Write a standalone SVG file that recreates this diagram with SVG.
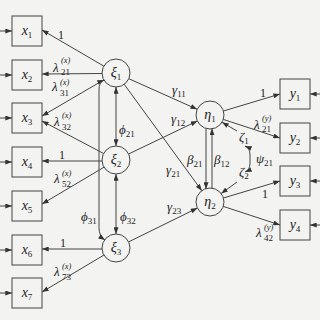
<svg xmlns="http://www.w3.org/2000/svg" width="320" height="320" viewBox="0 0 320 320">
<defs>
<marker id="ah" viewBox="0 0 8 6" refX="8" refY="3" markerWidth="7" markerHeight="5" markerUnits="userSpaceOnUse" orient="auto-start-reverse">
<path d="M0,0 L8,3 L0,6 z" fill="#333"/>
</marker>
<style>
.bg{fill:#f3f3f1}
.box{fill:none;stroke:#444;stroke-width:1}
.ci{fill:none;stroke:#444;stroke-width:1}
.ln{fill:none;stroke:#444;stroke-width:1;marker-end:url(#ah)}
.dl{fill:none;stroke:#444;stroke-width:1;marker-end:url(#ah);marker-start:url(#ah)}
text{font-family:"Liberation Serif","DejaVu Serif",serif;fill:#222}
.v{font-size:14px;font-style:italic}
.g{font-size:13px;font-style:italic}
.s{font-size:9px;font-style:normal}
.si{font-size:8.5px;font-style:italic}
.n{font-size:12px}
</style>
</defs>
<rect class="bg" x="0" y="0" width="320" height="320"/>

<g id="connectors">
<line class="ln" x1="0" y1="31" x2="12" y2="31"/>
<line class="ln" x1="0" y1="75" x2="12" y2="75"/>
<line class="ln" x1="0" y1="118" x2="12" y2="118"/>
<line class="ln" x1="0" y1="162" x2="12" y2="162"/>
<line class="ln" x1="0" y1="206" x2="12" y2="206"/>
<line class="ln" x1="0" y1="250" x2="12" y2="250"/>
<line class="ln" x1="0" y1="293" x2="12" y2="293"/>
<line class="ln" x1="320" y1="94" x2="310" y2="94"/>
<line class="ln" x1="320" y1="138" x2="310" y2="138"/>
<line class="ln" x1="320" y1="181" x2="310" y2="181"/>
<line class="ln" x1="320" y1="225" x2="310" y2="225"/>
<line class="ln" x1="103.8" y1="66.1" x2="42" y2="30"/>
<line class="ln" x1="102" y1="73.5" x2="42" y2="74"/>
<line class="ln" x1="103.8" y1="79.9" x2="42" y2="116"/>
<line class="ln" x1="103.6" y1="153.5" x2="42" y2="121"/>
<line class="ln" x1="102" y1="161" x2="42" y2="161"/>
<line class="ln" x1="104" y1="167.2" x2="42" y2="204"/>
<line class="ln" x1="102" y1="249" x2="42" y2="249"/>
<line class="ln" x1="104" y1="255" x2="42" y2="292"/>
<line class="dl" x1="116" y1="87" x2="116" y2="146"/>
<line class="dl" x1="116" y1="174" x2="116" y2="234"/>
<path class="dl" d="M105,240 Q99,236 99,228 L99,90 Q99,82 104,80"/>
<line class="ln" x1="128.8" y1="78.7" x2="197.2" y2="109.3"/>
<line class="ln" x1="128.6" y1="154" x2="197.4" y2="121"/>
<line class="ln" x1="124.2" y1="84.3" x2="201.8" y2="190.7"/>
<line class="ln" x1="128.6" y1="241.9" x2="197.4" y2="208.1"/>
<line class="ln" x1="206" y1="128.5" x2="206" y2="189"/>
<line class="ln" x1="212" y1="188.5" x2="212" y2="128.5"/>
<line class="ln" x1="237" y1="131" x2="222" y2="122.3"/>
<line class="ln" x1="237" y1="182" x2="221.2" y2="193.5"/>
<path class="dl" d="M245,172 Q250,170 250,163 L250,155 Q250,148 245,146"/>
<line class="ln" x1="223.4" y1="111" x2="280" y2="94"/>
<line class="ln" x1="223.3" y1="119.4" x2="280" y2="138"/>
<line class="ln" x1="223.4" y1="198" x2="280" y2="181"/>
<line class="ln" x1="223.3" y1="206.4" x2="280" y2="225"/>
</g>

<g id="x1"><rect class="box" x="12" y="16" width="30" height="30"/><text class="v" x="27" y="35" text-anchor="middle">x<tspan class="s" dy="3">1</tspan></text></g>
<g id="x2"><rect class="box" x="12" y="60" width="30" height="30"/><text class="v" x="27" y="79" text-anchor="middle">x<tspan class="s" dy="3">2</tspan></text></g>
<g id="x3"><rect class="box" x="12" y="103" width="30" height="30"/><text class="v" x="27" y="122" text-anchor="middle">x<tspan class="s" dy="3">3</tspan></text></g>
<g id="x4"><rect class="box" x="12" y="147" width="30" height="30"/><text class="v" x="27" y="166" text-anchor="middle">x<tspan class="s" dy="3">4</tspan></text></g>
<g id="x5"><rect class="box" x="12" y="191" width="30" height="30"/><text class="v" x="27" y="210" text-anchor="middle">x<tspan class="s" dy="3">5</tspan></text></g>
<g id="x6"><rect class="box" x="12" y="235" width="30" height="30"/><text class="v" x="27" y="254" text-anchor="middle">x<tspan class="s" dy="3">6</tspan></text></g>
<g id="x7"><rect class="box" x="12" y="278" width="30" height="30"/><text class="v" x="27" y="297" text-anchor="middle">x<tspan class="s" dy="3">7</tspan></text></g>

<g id="xi1"><circle class="ci" cx="116" cy="73" r="14"/><text class="v" x="116" y="77" text-anchor="middle">ξ<tspan class="s" dy="3">1</tspan></text></g>
<g id="xi2"><circle class="ci" cx="116" cy="160" r="14"/><text class="v" x="116" y="164" text-anchor="middle">ξ<tspan class="s" dy="3">2</tspan></text></g>
<g id="xi3"><circle class="ci" cx="116" cy="248" r="14"/><text class="v" x="116" y="252" text-anchor="middle">ξ<tspan class="s" dy="3">3</tspan></text></g>

<g id="eta1"><circle class="ci" cx="210" cy="115" r="14"/><text class="v" x="210" y="119" text-anchor="middle">η<tspan class="s" dy="3">1</tspan></text></g>
<g id="eta2"><circle class="ci" cx="210" cy="202" r="14"/><text class="v" x="210" y="206" text-anchor="middle">η<tspan class="s" dy="3">2</tspan></text></g>

<g id="y1"><rect class="box" x="280" y="79" width="30" height="30"/><text class="v" x="295" y="98" text-anchor="middle">y<tspan class="s" dy="3">1</tspan></text></g>
<g id="y2"><rect class="box" x="280" y="123" width="30" height="30"/><text class="v" x="295" y="142" text-anchor="middle">y<tspan class="s" dy="3">2</tspan></text></g>
<g id="y3"><rect class="box" x="280" y="166" width="30" height="30"/><text class="v" x="295" y="185" text-anchor="middle">y<tspan class="s" dy="3">3</tspan></text></g>
<g id="y4"><rect class="box" x="280" y="210" width="30" height="30"/><text class="v" x="295" y="229" text-anchor="middle">y<tspan class="s" dy="3">4</tspan></text></g>

<g id="labels">
<text class="n" x="58" y="39">1</text>
<text class="g" x="53" y="72">λ</text><text class="si" x="61" y="63">(x)</text><text class="s" x="61" y="75">21</text>
<text class="g" x="52" y="91">λ</text><text class="si" x="60" y="85">(x)</text><text class="s" x="60" y="96">31</text>
<text class="g" x="54" y="126">λ</text><text class="si" x="62" y="118">(x)</text><text class="s" x="62" y="130">32</text>
<text class="n" x="59" y="159">1</text>
<text class="g" x="54" y="183">λ</text><text class="si" x="62" y="176">(x)</text><text class="s" x="62" y="187">52</text>
<text class="n" x="60" y="247">1</text>
<text class="g" x="54" y="276">λ</text><text class="si" x="62" y="269">(x)</text><text class="s" x="62" y="280">73</text>

<text class="g" x="119" y="134">ϕ<tspan class="s" dy="3">21</tspan></text>
<text class="g" x="81" y="221">ϕ<tspan class="s" dy="3">31</tspan></text>
<text class="g" x="120" y="221">ϕ<tspan class="s" dy="3">32</tspan></text>

<text class="g" x="172" y="94">γ<tspan class="s" dy="3">11</tspan></text>
<text class="g" x="171" y="123">γ<tspan class="s" dy="3">12</tspan></text>
<text class="g" x="166" y="174">γ<tspan class="s" dy="3">21</tspan></text>
<text class="g" x="167" y="211">γ<tspan class="s" dy="3">23</tspan></text>

<text class="g" x="187" y="164">β<tspan class="s" dy="3">21</tspan></text>
<text class="g" x="214" y="164">β<tspan class="s" dy="3">12</tspan></text>

<text class="g" x="239" y="141">ζ<tspan class="s" dy="3">1</tspan></text>
<text class="g" x="239" y="176">ζ<tspan class="s" dy="3">2</tspan></text>
<text class="g" x="256" y="163">ψ<tspan class="s" dy="3">21</tspan></text>

<text class="n" x="260" y="97">1</text>
<text class="g" x="254" y="129">λ</text><text class="si" x="262" y="121">(y)</text><text class="s" x="262" y="132">21</text>
<text class="n" x="262" y="198">1</text>
<text class="g" x="256" y="237">λ</text><text class="si" x="264" y="230">(y)</text><text class="s" x="264" y="241">42</text>
</g>
</svg>
